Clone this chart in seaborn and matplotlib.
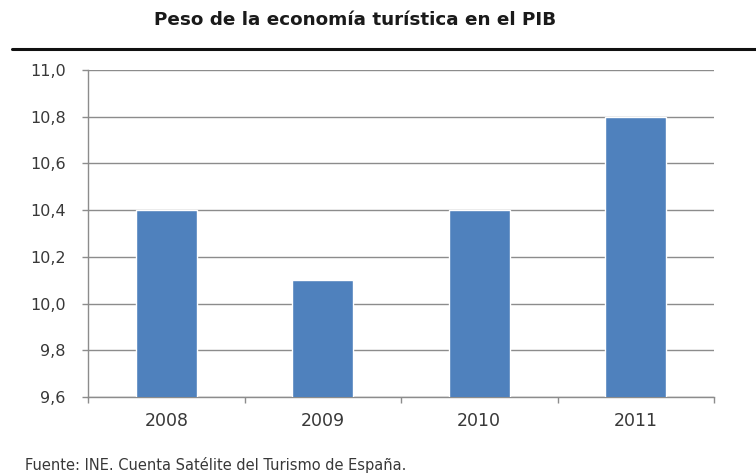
import matplotlib
matplotlib.use("Agg")
import matplotlib.pyplot as plt
import seaborn as sns
import pandas as pd
from matplotlib.ticker import FixedLocator, FuncFormatter

years = ["2008", "2009", "2010", "2011"]
share_pib = [10.4, 10.1, 10.4, 10.8]
y_ticks = [9.6, 9.8, 10.0, 10.2, 10.4, 10.6, 10.8, 11.0]

title = "Peso de la economía turística en el PIB"
source = "Fuente: INE. Cuenta Satélite del Turismo de España."

sns.set_theme(style="white")
plt.rcParams["font.family"] = ["DejaVu Sans"]

df = pd.DataFrame({"year": years, "value": share_pib})

fig = plt.figure(figsize=(7.56, 4.76), dpi=100)
ax = fig.add_axes([88 / 756, 1 - 397 / 476, 626 / 756, 327 / 476])

sns.barplot(data=df, x="year", y="value", color="#4F81BD", saturation=1,
            width=0.39, ax=ax, zorder=3)

ax.set_ylim(9.6, 11.0)
ax.set_xlim(-0.5, 3.5)
ax.set_yticks(y_ticks)
ax.yaxis.set_major_formatter(FuncFormatter(lambda v, _: f"{v:.1f}".replace(".", ",")))
ax.grid(axis="y", color="#8c8c8c", linewidth=1.0, zorder=0)
ax.set_axisbelow(True)

ax.set_xlabel("")
ax.set_ylabel("")

for side in ["top", "right"]:
    ax.spines[side].set_visible(False)
for side in ["left", "bottom"]:
    ax.spines[side].set_color("#8c8c8c")
    ax.spines[side].set_linewidth(1.0)

ax.tick_params(axis="y", which="major", left=True, length=4.5, width=1,
               color="#8c8c8c", labelsize=11.5, labelcolor="#383838", pad=11.5)
ax.tick_params(axis="x", which="major", bottom=False, length=0, labelsize=12.5,
               labelcolor="#383838", pad=11)
ax.xaxis.set_minor_locator(FixedLocator([-0.5, 0.5, 1.5, 2.5, 3.5]))
ax.tick_params(axis="x", which="minor", bottom=True, length=4, width=1,
               color="#8c8c8c", direction="out")

fig.text(355 / 756, 1 - 20 / 476, title, ha="center", va="center",
         fontsize=13.2, fontweight="bold", color="#1a1a1a")
fig.add_artist(plt.Line2D([12 / 756, 1.0], [1 - 49 / 476, 1 - 49 / 476],
                          transform=fig.transFigure, color="#111111",
                          linewidth=2.2))
fig.text(25 / 756, 1 - 465 / 476, source, ha="left", va="center",
         fontsize=10.5, color="#383838")

fig.savefig("out.png", dpi=100, facecolor="white")
